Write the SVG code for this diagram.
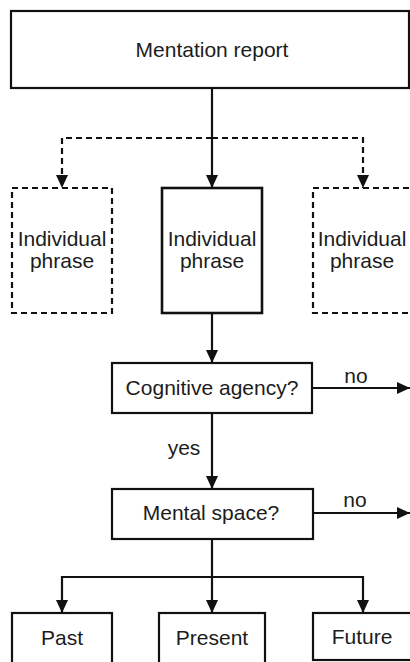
<svg xmlns="http://www.w3.org/2000/svg" width="410" height="662" viewBox="0 0 410 662">
<style>
.box{fill:#fff;stroke:#111;stroke-width:2.2}
.dbox{fill:#fff;stroke:#111;stroke-width:2.2;stroke-dasharray:6,4}
.ln{fill:none;stroke:#111;stroke-width:2.2}
.dln{fill:none;stroke:#111;stroke-width:2.2;stroke-dasharray:6,4}
text{font-family:"Liberation Sans",Arial,sans-serif;font-size:21px;fill:#1c1c1c;text-anchor:middle}
</style>
<defs>
<marker id="ah" markerUnits="userSpaceOnUse" markerWidth="13" markerHeight="12" refX="13" refY="6" orient="auto">
<path d="M0,0 L13,6 L0,12 Z" fill="#111"/>
</marker>
</defs>
<rect width="410" height="662" fill="#fff"/>
<g id="connectors">
<path class="ln" d="M212,88 V188" marker-end="url(#ah)"/>
<path class="dln" d="M212,138 H62 V188" marker-end="url(#ah)"/>
<path class="dln" d="M212,138 H363 V188" marker-end="url(#ah)"/>
<path class="ln" d="M212,313 V363" marker-end="url(#ah)"/>
<path class="ln" d="M312,388 H410" marker-end="url(#ah)"/>
<text x="356" y="383">no</text>
<path class="ln" d="M212,413 V489" marker-end="url(#ah)"/>
<text x="184" y="455">yes</text>
<path class="ln" d="M313,513 H410" marker-end="url(#ah)"/>
<text x="355" y="507">no</text>
<path class="ln" d="M212,539 V613" marker-end="url(#ah)"/>
<path class="ln" d="M212,577 H62 V613" marker-end="url(#ah)"/>
<path class="ln" d="M212,577 H363 V613" marker-end="url(#ah)"/>
</g>
<g id="mentation-report">
<rect class="box" x="11" y="11" width="398" height="77"/>
<text x="212" y="57">Mentation report</text>
</g>
<g id="phrase-left">
<rect class="dbox" x="12" y="188" width="100" height="125"/>
<text x="62" y="246">Individual</text>
<text x="62" y="268">phrase</text>
</g>
<g id="phrase-center">
<rect class="box" x="162" y="188" width="100" height="125" style="stroke-width:2.6"/>
<text x="212" y="246">Individual</text>
<text x="212" y="268">phrase</text>
</g>
<g id="phrase-right">
<rect class="dbox" x="313" y="188" width="110" height="125"/>
<text x="362" y="246">Individual</text>
<text x="362" y="268">phrase</text>
</g>
<g id="cognitive-agency">
<rect class="box" x="112" y="363" width="200" height="50"/>
<text x="212" y="395">Cognitive agency?</text>
</g>
<g id="mental-space">
<rect class="box" x="112" y="489" width="201" height="50"/>
<text x="211" y="520">Mental space?</text>
</g>
<g id="past">
<rect class="box" x="12" y="613" width="100" height="60"/>
<text x="62" y="645">Past</text>
</g>
<g id="present">
<rect class="box" x="159" y="613" width="106" height="60"/>
<text x="212" y="645">Present</text>
</g>
<g id="future">
<rect class="box" x="313" y="613" width="110" height="47"/>
<text x="362" y="644">Future</text>
</g>
</svg>
